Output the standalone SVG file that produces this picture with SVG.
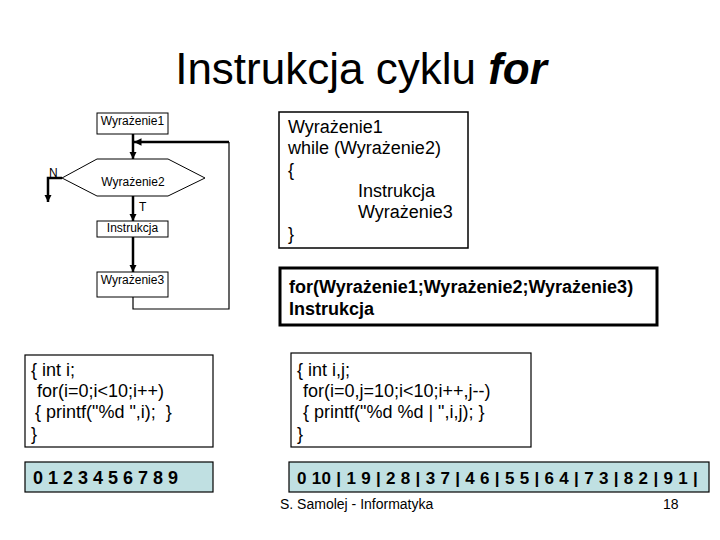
<svg xmlns="http://www.w3.org/2000/svg" width="720" height="540" viewBox="0 0 720 540">
<style>
.t{font-family:"Liberation Sans",Arial,sans-serif;fill:#000}
.fc{font-size:12px}
.box{fill:#fff;stroke:#000;stroke-width:1}
.thick{fill:none;stroke:#000;stroke-width:2.5}
.thin{fill:none;stroke:#000;stroke-width:1.2}
.code{font-size:18px}
.out{fill:#c0e0e2;stroke:#000;stroke-width:1.2}
.ot{font-weight:bold}
</style>
<defs>
<marker id="ah" viewBox="0 0 10 10" refX="10" refY="5" markerWidth="3" markerHeight="3.5" orient="auto" markerUnits="strokeWidth">
<path d="M0,0 L10,5 L0,10 z" fill="#000"/>
</marker>
</defs>
<rect width="720" height="540" fill="#fff"/>
<text class="t" x="361" y="84" font-size="44" text-anchor="middle">Instrukcja cyklu <tspan font-weight="bold" font-style="italic">for</tspan></text>

<g id="connectors">
<line class="thick" x1="133" y1="134" x2="133" y2="159" marker-end="url(#ah)"/>
<polyline class="thin" points="133,297 133,309 229,309 229,142"/>
<line class="thick" x1="229" y1="142" x2="134" y2="142" stroke-width="2" marker-end="url(#ah)"/>
<polyline class="thick" points="62,178 48,178 48,202" stroke-width="2" marker-end="url(#ah)"/>
<line class="thick" x1="133" y1="196" x2="133" y2="221" marker-end="url(#ah)"/>
<line class="thick" x1="133" y1="237" x2="133" y2="272" marker-end="url(#ah)"/>
</g>

<g id="n-wyr1">
<rect class="box" x="97" y="113" width="71" height="21"/>
<text class="t fc" x="132.5" y="124.5" text-anchor="middle">Wyrażenie1</text>
</g>
<g id="n-wyr2">
<polygon class="box" points="62,178 97,159 168,159 205,178 168,196 97,196"/>
<text class="t fc" x="133" y="186" text-anchor="middle">Wyrażenie2</text>
<text class="t fc" x="49" y="177">N</text>
<text class="t fc" x="139" y="211">T</text>
</g>
<g id="n-instr">
<rect class="box" x="97" y="221" width="71" height="16"/>
<text class="t fc" x="132.5" y="231.5" text-anchor="middle">Instrukcja</text>
</g>
<g id="n-wyr3">
<rect class="box" x="97" y="272" width="71" height="25"/>
<text class="t fc" x="132.5" y="284" text-anchor="middle">Wyrażenie3</text>
</g>

<g id="while-box">
<rect x="279" y="112" width="189" height="136" fill="#fff" stroke="#000" stroke-width="1.5"/>
<text class="t code" x="288" y="133">Wyrażenie1</text>
<text class="t code" x="288" y="154">while (Wyrażenie2)</text>
<text class="t code" x="288" y="176">{</text>
<text class="t code" x="358" y="197">Instrukcja</text>
<text class="t code" x="358" y="218">Wyrażenie3</text>
<text class="t code" x="288" y="240">}</text>
</g>

<g id="for-box">
<rect x="280" y="268" width="377" height="57" fill="#fff" stroke="#000" stroke-width="3"/>
<text class="t code" x="289" y="293" font-weight="bold">for(Wyrażenie1;Wyrażenie2;Wyrażenie3)</text>
<text class="t code" x="289" y="315" font-weight="bold">Instrukcja</text>
</g>

<g id="code1">
<rect x="25" y="355" width="188" height="92" fill="#fff" stroke="#000" stroke-width="1.2"/>
<text class="t code" x="31" y="376">{ int i;</text>
<text class="t code" x="37" y="397">for(i=0;i&lt;10;i++)</text>
<text class="t code" x="35" y="418" xml:space="preserve">{ printf("%d ",i);  }</text>
<text class="t code" x="31" y="440">}</text>
</g>

<g id="code2">
<rect x="291" y="353" width="240" height="94" fill="#fff" stroke="#000" stroke-width="1.2"/>
<text class="t code" x="297" y="376">{ int i,j;</text>
<text class="t code" x="303" y="397">for(i=0,j=10;i&lt;10;i++,j--)</text>
<text class="t code" x="303" y="418">{ printf("%d %d | ",i,j); }</text>
<text class="t code" x="297" y="440">}</text>
</g>

<g id="out1">
<rect class="out" x="25" y="462" width="188" height="30"/>
<text class="t ot" x="33" y="484" font-size="18">0 1 2 3 4 5 6 7 8 9</text>
</g>
<g id="out2">
<rect class="out" x="289" y="462" width="420" height="30"/>
<text class="t ot" x="297" y="484" font-size="17" letter-spacing="0.3">0 10 | 1 9 | 2 8 | 3 7 | 4 6 | 5 5 | 6 4 | 7 3 | 8 2 | 9 1 |</text>
</g>

<text class="t" x="280" y="509" font-size="14">S. Samolej - Informatyka</text>
<text class="t" x="663" y="509" font-size="14">18</text>
</svg>
